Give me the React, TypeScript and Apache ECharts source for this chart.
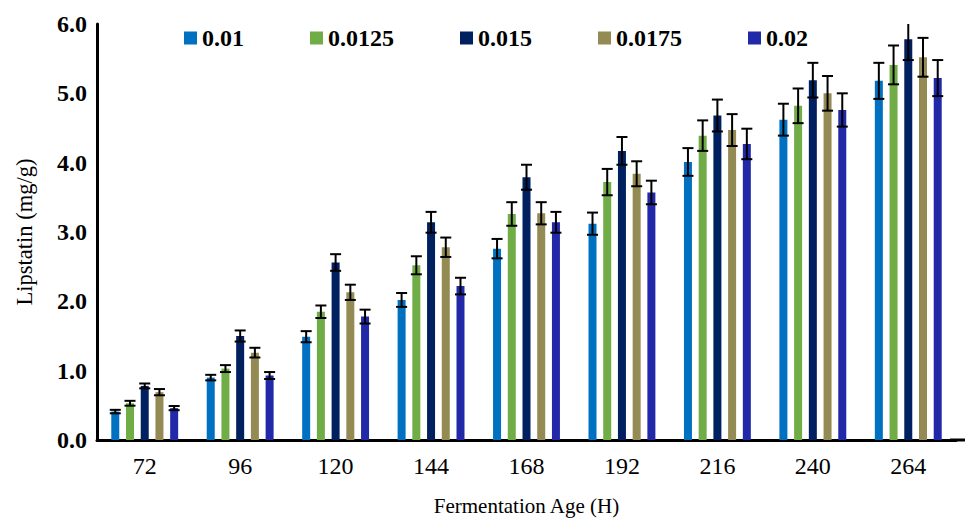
import React, { useEffect, useRef } from "react";
import * as echarts from "echarts";

const categories = ["72", "96", "120", "144", "168", "192", "216", "240", "264"];
const seriesNames = ["0.01", "0.0125", "0.015", "0.0175", "0.02"];
const colors = ["#0070C0", "#70AD47", "#002060", "#948A54", "#2229A8"];

const v001 = [0.41, 0.9, 1.49, 2.02, 2.76, 3.12, 4.01, 4.62, 5.18];
const e001 = [0.025, 0.04, 0.08, 0.1, 0.14, 0.16, 0.2, 0.23, 0.26];
const v00125 = [0.53, 1.03, 1.85, 2.52, 3.26, 3.72, 4.39, 4.82, 5.41];
const e00125 = [0.035, 0.05, 0.09, 0.13, 0.17, 0.19, 0.22, 0.25, 0.28];
const v0015 = [0.78, 1.5, 2.56, 3.14, 3.79, 4.17, 4.68, 5.19, 5.78];
const e0015 = [0.035, 0.08, 0.12, 0.15, 0.18, 0.2, 0.23, 0.25, 0.3];
const v00175 = [0.69, 1.26, 2.13, 2.78, 3.27, 3.84, 4.47, 5.0, 5.52];
const e00175 = [0.045, 0.07, 0.11, 0.14, 0.16, 0.18, 0.23, 0.25, 0.28];
const v002 = [0.46, 0.93, 1.78, 2.22, 3.14, 3.57, 4.27, 4.76, 5.22];
const e002 = [0.03, 0.05, 0.1, 0.12, 0.15, 0.17, 0.22, 0.24, 0.26];

const values = [v001, v00125, v0015, v00175, v002];
const errors = [e001, e00125, e0015, e00175, e002];

const yTicks = [0, 1, 2, 3, 4, 5, 6];

const FONT = "Liberation Serif";
const BAR_W = 8;
const BAR_GAP = 0.84;

export default function App() {
  const ref = useRef<HTMLDivElement>(null);
  useEffect(() => {
    if (!ref.current) return;
    const chart = echarts.init(ref.current, undefined, { renderer: "svg" });
    const step = BAR_W * (1 + BAR_GAP);
    const barSeries = seriesNames.map((name, k) => ({
      name,
      type: "bar",
      data: values[k],
      barWidth: BAR_W,
      barGap: `${BAR_GAP * 100}%`,
      itemStyle: { color: colors[k] },
      z: 2,
    }));
    const errSeries = seriesNames.map((name, k) => ({
      name: name + " err",
      type: "custom",
      clip: true,
      z: 5,
      data: values[k].map((v, i) => [i, v, errors[k][i]]),
      encode: { x: 0, y: 1 },
      renderItem: (params: any, api: any) => {
        const ci = api.value(0);
        const v = api.value(1);
        const e = api.value(2);
        const base = api.coord([ci, v]);
        const hi = api.coord([ci, v + e]);
        const lo = api.coord([ci, v - e]);
        const x = base[0] + (k - 2) * step;
        const st = { stroke: "#000", lineWidth: 2 };
        return {
          type: "group",
          children: [
            { type: "line", shape: { x1: x, y1: hi[1], x2: x, y2: lo[1] }, style: st },
            { type: "line", shape: { x1: x - 5.5, y1: hi[1], x2: x + 5.5, y2: hi[1] }, style: st },
            { type: "line", shape: { x1: x - 5.5, y1: lo[1], x2: x + 5.5, y2: lo[1] }, style: st },
          ],
        };
      },
    }));
    chart.setOption({
      animation: false,
      backgroundColor: "#fff",
      textStyle: { fontFamily: FONT, color: "#000" },
      legend: {
        data: seriesNames,
        left: 179,
        top: 21,
        icon: "rect",
        itemWidth: 13,
        itemHeight: 13,
        itemGap: 66,
        textStyle: { fontFamily: FONT, fontSize: 24, fontWeight: "bold", color: "#000" },
      },
      grid: { left: 97, right: 9, top: 24, bottom: 81 },
      graphic: [
        {
          type: "line",
          shape: { x1: 950, y1: 440, x2: 965, y2: 440 },
          style: { stroke: "#000", lineWidth: 3 },
        },
      ],
      xAxis: {
        type: "category",
        data: categories,
        name: "Fermentation Age (H)",
        nameLocation: "middle",
        nameGap: 55,
        nameTextStyle: { fontFamily: FONT, fontSize: 21, color: "#000" },
        axisLine: { lineStyle: { color: "#000", width: 3 } },
        axisTick: { show: false },
        axisLabel: { fontFamily: FONT, fontSize: 24, color: "#000", margin: 14 },
      },
      yAxis: {
        type: "value",
        min: yTicks[0],
        max: yTicks[yTicks.length - 1],
        interval: 1,
        name: "Lipstatin (mg/g)",
        nameLocation: "middle",
        nameGap: 61,
        nameTextStyle: { fontFamily: FONT, fontSize: 22.5, color: "#000" },
        axisLine: { show: true, lineStyle: { color: "#000", width: 3 } },
        axisTick: { show: false },
        splitLine: { show: false },
        axisLabel: {
          fontFamily: FONT,
          fontSize: 24,
          fontWeight: "bold",
          color: "#000",
          margin: 10,
          formatter: (v: number) => v.toFixed(1),
        },
      },
      series: [...barSeries, ...errSeries],
    });
    return () => chart.dispose();
  }, []);
  return (
    <div
      ref={ref}
      style={{ position: "fixed", left: 0, top: 0, width: 965, height: 521, background: "#fff" }}
    />
  );
}
